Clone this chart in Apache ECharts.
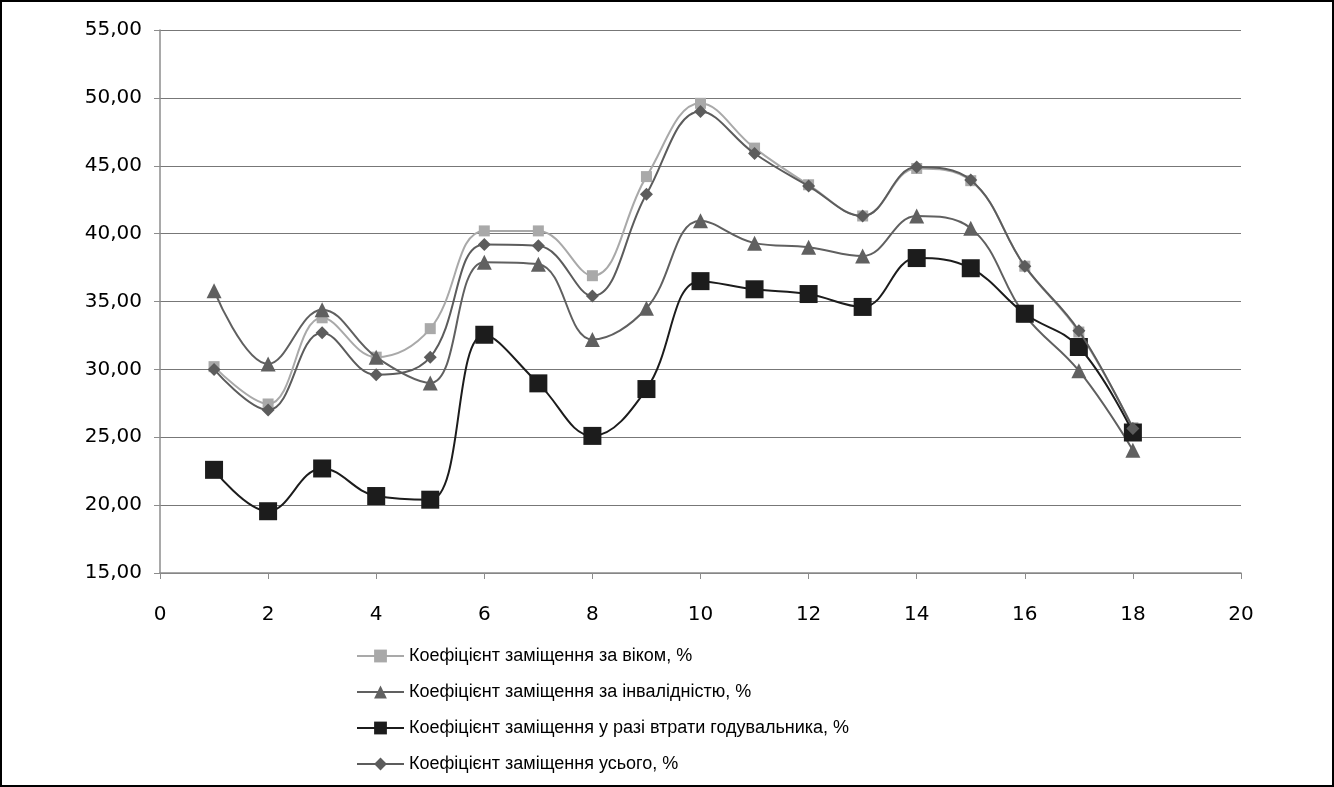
<!DOCTYPE html>
<html><head><meta charset="utf-8">
<script src="https://cdn.jsdelivr.net/npm/echarts@6/dist/echarts.min.js"></script>
<style>html,body{margin:0;padding:0;background:#fff}#c{width:1334px;height:787px;box-sizing:border-box;border:2px solid #000}</style>
</head><body><div id="c"></div>
<script>
const xValues = [1,2,3,4,5,6,7,8,9,10,11,12,13,14,15,16,17,18];
const seriesNames = [
  'Коефіцієнт заміщення за віком, %',
  'Коефіцієнт заміщення за інвалідністю, %',
  'Коефіцієнт заміщення у разі втрати годувальника, %',
  'Коефіцієнт заміщення усього, %'
];
const ageValues = [30.2,27.45,33.8,30.9,33.0,40.2,40.2,36.9,44.2,49.6,46.3,43.6,41.3,44.8,43.9,37.6,32.75,25.7];
const disabilityValues = [35.8,30.4,34.4,30.9,29.0,37.9,37.75,32.2,34.5,40.95,39.3,39.0,38.35,41.3,40.4,34.0,29.9,24.05];
const survivorValues = [22.6,19.55,22.7,20.67,20.4,32.55,28.97,25.1,28.55,36.5,35.9,35.55,34.6,38.2,37.45,34.1,31.65,25.35];
const totalValues = [30.0,27.0,32.7,29.6,30.9,39.2,39.1,35.4,42.9,49.0,45.9,43.5,41.3,44.9,43.95,37.6,32.85,25.65];

const pairs = v => xValues.map((x,i)=>[x,v[i]]);
const chart = echarts.init(document.getElementById('c'));
const font = "'Liberation Sans',sans-serif";
function mk(name, vals, color, symbol, size, z){
  return {name, type:'line', data:pairs(vals), smooth:0.4, symbol, symbolSize:size,
    lineStyle:{color, width:2}, itemStyle:{color}, z, animation:false};
}
chart.setOption({
  animation:false,
  grid:{left:158,right:91,top:28,bottom:212},
  xAxis:{type:'value',min:0,max:20,interval:2,
    axisLine:{lineStyle:{color:'#8c8c8c',width:1.5}},
    axisTick:{show:true,length:6,lineStyle:{color:'#8c8c8c'}},
    axisLabel:{color:'#000',fontSize:20,margin:32,fontFamily:'DejaVu Sans'},
    splitLine:{show:false}},
  yAxis:{type:'value',min:15,max:55,interval:5,
    axisLine:{show:true,lineStyle:{color:'#8c8c8c',width:1.5}},
    axisTick:{show:true,length:6,lineStyle:{color:'#8c8c8c'}},
    axisLabel:{color:'#000',fontSize:20,margin:18,fontFamily:'DejaVu Sans',
      formatter:v=>v.toFixed(2).replace('.',',')},
    splitLine:{lineStyle:{color:'#777',width:1.2}}},
  legend:{orient:'vertical',left:349,top:640,itemGap:18,itemWidth:47,itemHeight:16,
    textStyle:{fontSize:18,color:'#000',fontFamily:font},
    data:seriesNames},
  series:[
    mk(seriesNames[0], ageValues, '#a9a9a9', 'rect', 11, 2),
    mk(seriesNames[1], disabilityValues, '#606060', 'triangle', 15, 3),
    mk(seriesNames[2], survivorValues, '#1c1c1c', 'rect', 18, 4),
    mk(seriesNames[3], totalValues, '#5c5c5c', 'diamond', 13, 5)
  ]
});
</script></body></html>
